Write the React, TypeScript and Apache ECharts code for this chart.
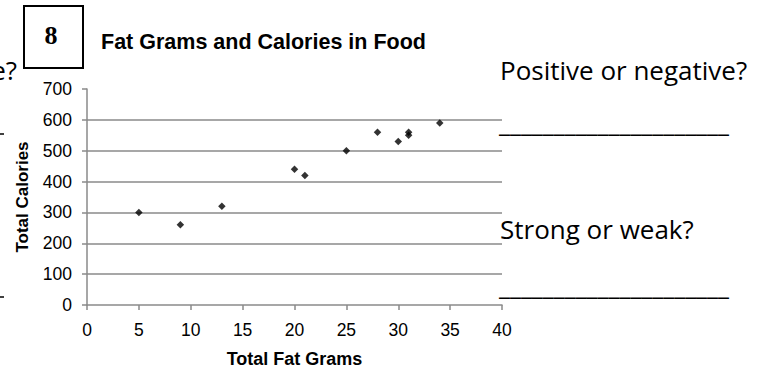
import React, { useEffect, useRef } from "react";
import * as echarts from "echarts";

const fatGrams = [5, 9, 13, 20, 21, 25, 28, 30, 31, 31, 34];
const calories = [300, 260, 320, 440, 420, 500, 560, 530, 560, 550, 590];
const gridLineValues = [100, 200, 300, 400, 500, 600];
const chartTitle = "Fat Grams and Calories in Food";
const xName = "Total Fat Grams";
const yName = "Total Calories";
const problemNumber = "8";
const question1 = "Positive or negative?";
const question2 = "Strong or weak?";
const blank = "_".repeat(21);

const SANS = '"Liberation Sans", Arial, sans-serif';
const CAL = '"Open Sans", sans-serif';

export default function App() {
  const ref = useRef<HTMLDivElement>(null);
  useEffect(() => {
    if (!ref.current) return;
    const chart = echarts.init(ref.current, undefined, { renderer: "svg" });
    const points = fatGrams.map((x, i) => [x, calories[i]]);
    chart.setOption({
      animation: false,
      backgroundColor: "#fff",
      title: {
        text: chartTitle,
        left: 96,
        top: 26,
        textStyle: { fontFamily: SANS, fontSize: 21.5, fontWeight: "bold", color: "#000" },
      },
      grid: {
        left: 87,
        right: 263,
        top: 89,
        bottom: 63,
        containLabel: false,
        outerBoundsMode: "none",
      },
      xAxis: {
        type: "value",
        min: 0,
        max: 40,
        interval: 5,
        name: xName,
        nameLocation: "middle",
        nameGap: 45,
        nameTextStyle: { fontFamily: SANS, fontSize: 18, fontWeight: "bold", color: "#000" },
        axisLine: { show: true, lineStyle: { color: "#8a8a8a", width: 1.5 } },
        axisTick: { show: true, length: 5, lineStyle: { color: "#8a8a8a", width: 1.5 } },
        axisLabel: { fontFamily: SANS, fontSize: 17.5, color: "#000", margin: 16 },
        splitLine: { show: false },
      },
      yAxis: {
        type: "value",
        min: 0,
        max: 700,
        interval: 100,
        name: yName,
        nameLocation: "middle",
        nameGap: 56,
        nameRotate: 90,
        nameTextStyle: { fontFamily: SANS, fontSize: 17, fontWeight: "bold", color: "#000" },
        axisLine: { show: true, lineStyle: { color: "#8a8a8a", width: 1.5 } },
        axisTick: { show: true, length: 5, lineStyle: { color: "#8a8a8a", width: 1.5 } },
        axisLabel: { fontFamily: SANS, fontSize: 17.5, color: "#000", margin: 15 },
        splitLine: { show: false },
      },
      series: [
        {
          type: "scatter",
          data: points,
          symbol: "diamond",
          symbolSize: 7.5,
          itemStyle: { color: "#000" },
          markLine: {
            silent: true,
            symbol: "none",
            label: { show: false },
            lineStyle: { color: "#8a8a8a", width: 1.5, type: "solid" },
            data: gridLineValues.map((v) => ({ yAxis: v })),
          },
          z: 5,
        },
      ],
      graphic: [
        {
          type: "rect",
          shape: { x: 24, y: 6, width: 59, height: 62 },
          style: { fill: "#fff", stroke: "#000", lineWidth: 2 },
        },
        {
          type: "text",
          x: 51,
          y: 35,
          style: {
            text: problemNumber,
            font: 'bold 26px "Liberation Serif", serif',
            fill: "#000",
            align: "center",
            verticalAlign: "middle",
          },
        },
        {
          type: "text",
          x: 17,
          y: 70,
          style: { text: "e?", font: "26px " + CAL, fill: "#000", align: "right", verticalAlign: "middle" },
        },
        {
          type: "text",
          x: 500,
          y: 70,
          style: { text: question1, font: "26px " + CAL, fill: "#000", align: "left", verticalAlign: "middle" },
        },
        {
          type: "text",
          x: 499,
          y: 122,
          style: { text: blank, font: "25px " + CAL, fill: "#000", align: "left", verticalAlign: "middle" },
        },
        {
          type: "text",
          x: 500,
          y: 229,
          style: { text: question2, font: "26px " + CAL, fill: "#000", align: "left", verticalAlign: "middle" },
        },
        {
          type: "text",
          x: 499,
          y: 285,
          style: { text: blank, font: "25px " + CAL, fill: "#000", align: "left", verticalAlign: "middle" },
        },
        {
          type: "line",
          shape: { x1: 0, y1: 134, x2: 4, y2: 134 },
          style: { stroke: "#000", lineWidth: 1.5 },
        },
        {
          type: "line",
          shape: { x1: 0, y1: 297, x2: 4, y2: 297 },
          style: { stroke: "#000", lineWidth: 1.5 },
        },
      ],
    });
    return () => chart.dispose();
  }, []);
  return (
    <div
      ref={ref}
      style={{ position: "fixed", left: 0, top: 0, width: 765, height: 368, background: "#fff" }}
    />
  );
}
